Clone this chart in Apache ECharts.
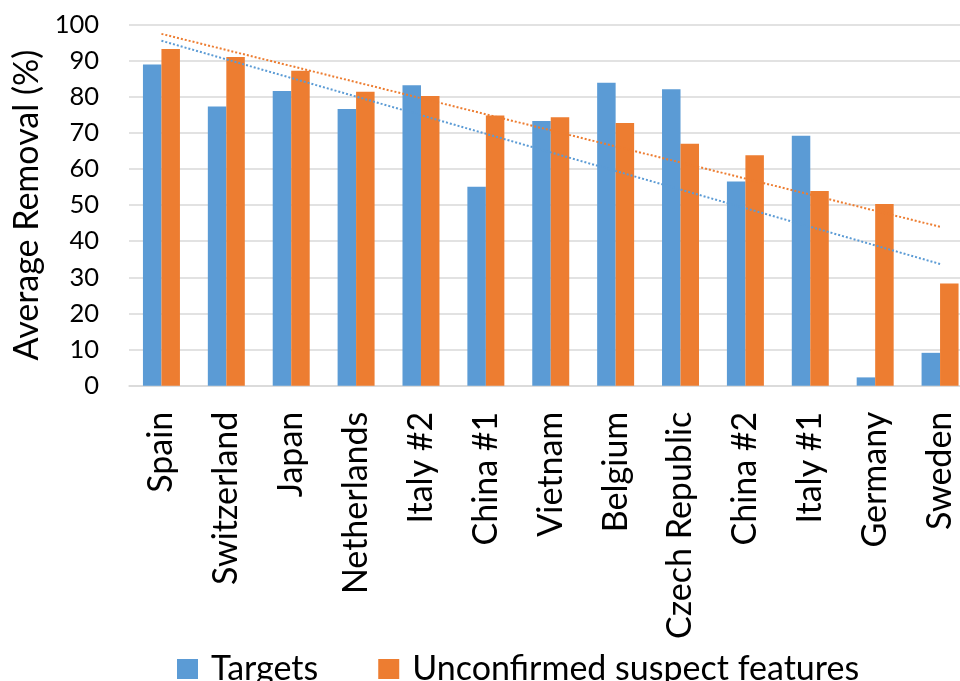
<!DOCTYPE html>
<html>
<head>
<meta charset="utf-8">
<script src="https://cdn.jsdelivr.net/npm/echarts@6/dist/echarts.min.js"></script>
<style>
  html, body { margin: 0; padding: 0; background: #fff; }
  #chart { width: 960px; height: 681px; }
</style>
</head>
<body>
<div id="chart"></div>
<script>
// sites, in the order shown on the x axis
const sites = ["Spain", "Switzerland", "Japan", "Netherlands", "Italy #2", "China #1",
  "Vietnam", "Belgium", "Czech Republic", "China #2", "Italy #1", "Germany", "Sweden"];
// average removal (%)
const targets = [88.9, 77.3, 81.6, 76.6, 83.2, 55.1, 73.3, 83.9, 82.1, 56.5, 69.2, 2.3, 9.1];
const unconfirmed = [93.2, 91.0, 87.2, 81.4, 80.2, 74.8, 74.3, 72.7, 67.0, 63.8, 53.9, 50.3, 28.3];
// linear trendlines: value at first and last site
const trendTargets = [95.5, 33.7];
const trendUnconfirmed = [97.4, 44.0];
const yTicks = { min: 0, max: 100, interval: 10 };

const fontFam = "Lato, 'Open Sans', sans-serif";
const blue = "#5B9BD5";
const orange = "#ED7D31";

// put the two trend values at the ends, leave the middle empty
function trendData(ends) {
  return sites.map((s, i) => i === 0 ? ends[0] : (i === sites.length - 1 ? ends[1] : null));
}

const chart = echarts.init(document.getElementById("chart"));
chart.setOption({
  animation: false,
  textStyle: { fontFamily: fontFam },
  // plot runs past the right edge of the picture (last bar is cut)
  grid: {
    left: 129, width: 843.5, top: 24.5, height: 361.2,
    containLabel: false, outerBoundsMode: "none"
  },
  legend: {
    data: ["Targets", "Unconfirmed suspect features"],
    top: 647,
    left: 172,
    itemWidth: 21,
    itemHeight: 20,
    itemGap: 60,
    icon: "rect",
    textStyle: { fontSize: 34, color: "#000", fontFamily: fontFam, padding: [0, 0, 0, 8] }
  },
  xAxis: {
    type: "category",
    data: sites,
    axisLine: { lineStyle: { color: "#D9D9D9", width: 1.5 } },
    axisTick: { show: false },
    axisLabel: { rotate: 90, fontSize: 34, color: "#000", margin: 26, interval: 0 }
  },
  yAxis: {
    type: "value",
    min: yTicks.min,
    max: yTicks.max,
    interval: yTicks.interval,
    name: "Average Removal (%)",
    nameLocation: "middle",
    nameGap: 84,
    nameTextStyle: { fontSize: 34, color: "#000" },
    axisLine: { show: false },
    axisTick: { show: false },
    axisLabel: { fontSize: 25.5, color: "#000", margin: 30 },
    splitLine: { lineStyle: { color: "#D9D9D9", width: 1.5 } }
  },
  series: [
    {
      name: "Targets", type: "bar", data: targets,
      barWidth: "28.5%", barGap: "0%",
      itemStyle: { color: blue }
    },
    {
      name: "Unconfirmed suspect features", type: "bar", data: unconfirmed,
      barWidth: "28.5%", barGap: "0%",
      itemStyle: { color: orange }
    },
    {
      name: "trend targets", type: "line", data: trendData(trendTargets),
      connectNulls: true, symbol: "none", z: 5,
      lineStyle: { color: blue, width: 2, type: [2, 2] }
    },
    {
      name: "trend unconfirmed", type: "line", data: trendData(trendUnconfirmed),
      connectNulls: true, symbol: "none", z: 5,
      lineStyle: { color: orange, width: 2, type: [2, 2] }
    }
  ]
});
</script>
</body>
</html>
